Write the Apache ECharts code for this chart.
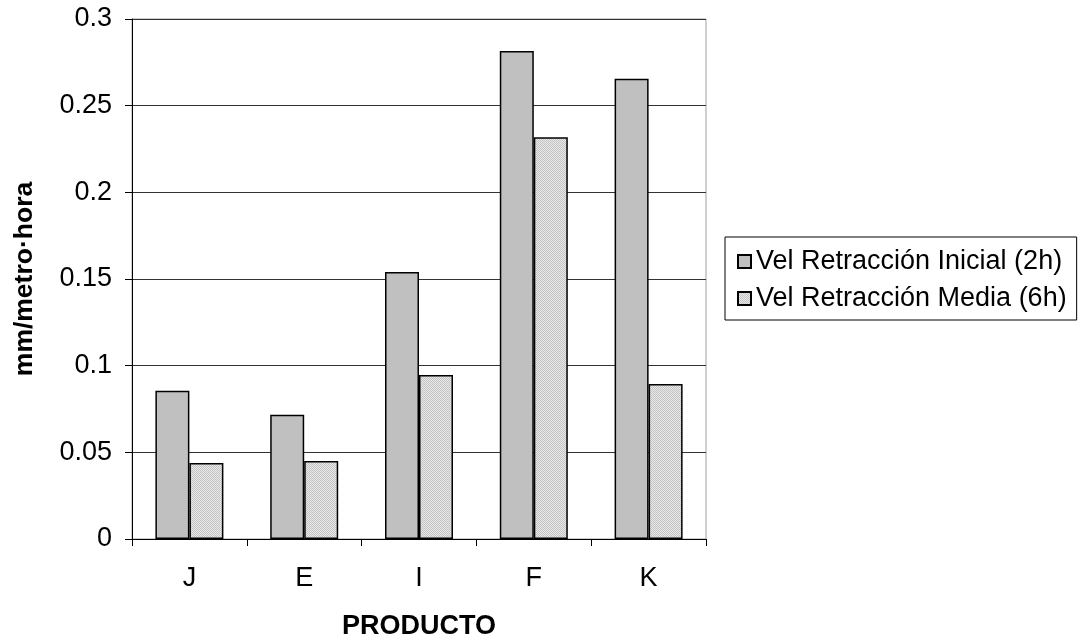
<!DOCTYPE html>
<html>
<head>
<meta charset="utf-8">
<script src="https://cdn.jsdelivr.net/npm/echarts@6/dist/echarts.min.js"></script>
<style>
  html, body { margin: 0; padding: 0; background: #fff; }
  #chart { width: 1081px; height: 641px; }
</style>
</head>
<body>
<div id="chart"></div>
<script>
// Product categories and shrinkage speeds (mm/metro·hora)
const categories = ['J', 'E', 'I', 'F', 'K'];
const velInicial = [0.0855, 0.0717, 0.154, 0.2815, 0.2655];
const velMedia = [0.0438, 0.0450, 0.0946, 0.2318, 0.0894];
const yTicks = ['0', '0.05', '0.1', '0.15', '0.2', '0.25', '0.3'];
const seriesNames = ['Vel Retracción Inicial (2h)', 'Vel Retracción Media (6h)'];

// fine dotted fill for the second series
function dotPattern() {
  const c = document.createElement('canvas');
  c.width = 2; c.height = 2;
  const ctx = c.getContext('2d');
  ctx.fillStyle = '#e8e8e8';
  ctx.fillRect(0, 0, 2, 2);
  ctx.fillStyle = '#c4c4c4';
  ctx.fillRect(0, 0, 1, 1);
  ctx.fillRect(1, 1, 1, 1);
  return { image: c, repeat: 'repeat' };
}

const FONT = '"Liberation Sans", Arial, sans-serif';
const chart = echarts.init(document.getElementById('chart'));
chart.setOption({
  animation: false,
  backgroundColor: '#fff',
  grid: {
    left: 132, right: 375, top: 19, bottom: 102,
    outerBoundsMode: 'none',
    containLabel: false,
    show: true, borderColor: '#a0a0a0', borderWidth: 1, backgroundColor: 'transparent'
  },
  legend: {
    orient: 'vertical',
    left: 725, top: 237,
    padding: [11, 10, 8, 12],
    itemGap: 10,
    itemWidth: 13, itemHeight: 13,
    icon: 'rect',
    borderColor: '#000', borderWidth: 1,
    textStyle: { fontFamily: FONT, fontSize: 27, color: '#000' },
    data: seriesNames
  },
  xAxis: {
    type: 'category',
    data: categories,
    name: 'PRODUCTO',
    nameLocation: 'middle',
    nameGap: 74,
    nameTextStyle: { fontFamily: FONT, fontSize: 27, fontWeight: 'bold', color: '#000' },
    axisLine: { lineStyle: { color: '#000', width: 1 } },
    axisTick: { show: true, length: 7, lineStyle: { color: '#000' } },
    axisLabel: { fontFamily: FONT, fontSize: 27, color: '#000', margin: 26 }
  },
  yAxis: {
    type: 'value',
    min: 0, max: 0.3, interval: 0.05,
    name: 'mm/metro·hora',
    nameLocation: 'middle',
    nameGap: 94,
    nameTextStyle: { fontFamily: FONT, fontSize: 26.5, fontWeight: 'bold', color: '#000' },
    axisLine: { show: true, lineStyle: { color: '#000', width: 1 } },
    axisTick: { show: true, length: 7, lineStyle: { color: '#000' } },
    axisLabel: {
      fontFamily: FONT, fontSize: 27, color: '#000', margin: 20,
      formatter: (v) => yTicks[Math.round(v / 0.05)]
    },
    splitLine: { show: true, lineStyle: { color: '#333', width: 1 } }
  },
  series: [
    {
      name: seriesNames[0],
      type: 'bar',
      data: velInicial,
      barWidth: 34,
      barGap: '0%',
      itemStyle: { color: '#c0c0c0', borderColor: '#000', borderWidth: 1.5 }
    },
    {
      name: seriesNames[1],
      type: 'bar',
      data: velMedia,
      barWidth: 34,
      itemStyle: { color: dotPattern(), borderColor: '#000', borderWidth: 1.5 }
    }
  ]
});
</script>
</body>
</html>
